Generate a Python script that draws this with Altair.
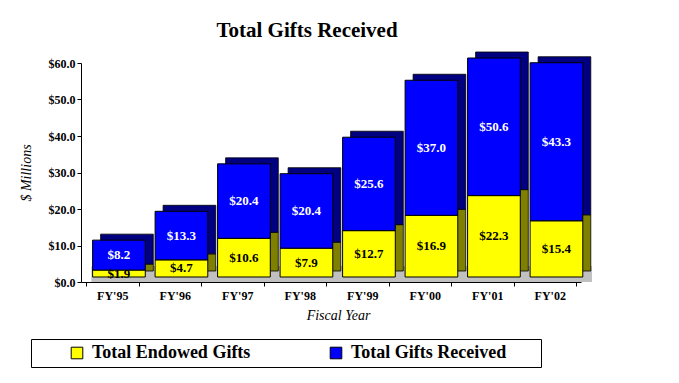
import altair as alt
import pandas as pd

years = ["FY'95", "FY'96", "FY'97", "FY'98", "FY'99", "FY'00", "FY'01", "FY'02"]
endowed = [1.9, 4.7, 10.6, 7.9, 12.7, 16.9, 22.3, 15.4]
gifts = [8.2, 13.3, 20.4, 20.4, 25.6, 37.0, 50.6, 43.3]
series_names = ["Total Endowed Gifts", "Total Gifts Received"]
front_colors = ["#FFFF00", "#0000FF"]
side_colors = ["#808000", "#000080"]
text_colors = ["#000000", "#FFFFFF"]
y_ticks = [0, 10, 20, 30, 40, 50, 60]
y_max = 60.0
floor_depth = 4.3

rows = []
for i, yr in enumerate(years):
    e = endowed[i]
    g = gifts[i]
    top = min(e + g, y_max)
    rows.append(dict(year=yr, series=series_names[0], y0=0.0, y1=e, mid=e / 2,
                     label=f"${e:.1f}", side=side_colors[0], tcol=text_colors[0], floor=floor_depth, zero=0.0))
    rows.append(dict(year=yr, series=series_names[1], y0=e, y1=top, mid=(e + top) / 2,
                     label=f"${g:.1f}", side=side_colors[1], tcol=text_colors[1], floor=floor_depth, zero=0.0))
df = pd.DataFrame(rows)

FONT = "Liberation Serif"
FX, FY = 6.7, -5
DX, DY = 8, -6

x_enc = alt.X("year:N", sort=years, title="Fiscal Year",
              scale=alt.Scale(paddingInner=0.157, paddingOuter=0.0785),
              axis=alt.Axis(labelAngle=0, tickBand="extent", tickSize=4, labelPadding=4,
                            labelFont=FONT, labelFontWeight="bold", labelFontSize=12, labelColor="black",
                            titleFont=FONT, titleFontStyle="italic", titleFontWeight="normal",
                            titleFontSize=14, titlePadding=7, titleColor="black", titleX=257,
                            domainColor="black", tickColor="black", zindex=1, grid=False))
y_scale = alt.Scale(domain=[0, y_max])
y_axis = alt.Axis(values=y_ticks, format="$.1f", grid=False, tickSize=4, labelOverlap=False,
                  labelPadding=2, labelFont=FONT, labelFontWeight="bold", labelFontSize=12,
                  labelColor="black", titleFont=FONT, titleFontStyle="italic",
                  titleFontWeight="normal", titleFontSize=14, titlePadding=15,
                  titleColor="black", domainColor="black", tickColor="black", zindex=1)


def yq(field):
    return alt.Y(field, scale=y_scale, axis=y_axis, title="$ Millions")


base = alt.Chart(df)

floor = base.mark_bar(color="#C0C0C0", width=alt.RelativeBandSize(1.19), xOffset=10.7).encode(
    x=x_enc,
    y=yq("floor:Q"),
    y2="zero:Q",
)

side = base.mark_bar(stroke="black", strokeWidth=0.8, xOffset=FX + DX,
                     yOffset=FY + DY, y2Offset=FY + DY).encode(
    x=x_enc,
    y=yq("y0:Q"),
    y2="y1:Q",
    color=alt.Color("side:N", scale=None),
)

front = base.mark_bar(stroke="black", strokeWidth=1, xOffset=FX, yOffset=FY, y2Offset=FY).encode(
    x=x_enc,
    y=yq("y0:Q"),
    y2="y1:Q",
    color=alt.Color("series:N", scale=alt.Scale(domain=series_names, range=front_colors),
                    legend=alt.Legend(title=".", titleOrient="right", titleColor="white",
                                      titleFontSize=4, titlePadding=28,
                                      orient="none", legendX=-50, legendY=276,
                                      direction="horizontal", columns=2, columnPadding=44,
                                      padding=5, strokeColor="black", symbolType="square",
                                      symbolSize=135, symbolStrokeColor="black", symbolStrokeWidth=1,
                                      symbolOffset=32, labelOffset=6, labelFont=FONT,
                                      labelFontWeight="bold", labelFontSize=18, labelColor="black",
                                      labelLimit=400)),
)

labels = base.mark_text(font=FONT, fontWeight="bold", fontSize=13, xOffset=FX, yOffset=FY).encode(
    x=x_enc,
    y=yq("mid:Q"),
    text="label:N",
    color=alt.Color("tcol:N", scale=None),
)

chart = alt.layer(floor, side, front, labels).properties(
    width=500, height=219,
    autosize=alt.AutoSizeParams(type="none"),
    padding={"left": 73, "top": 55, "right": 90, "bottom": 92},
    background="white",
    title=alt.Title("Total Gifts Received", font=FONT, fontWeight="bold", fontSize=21,
                    color="black", anchor="middle", dx=-24, offset=11),
).configure_view(stroke=None).configure_axis(grid=False)

chart.save("out.html", embed_options={"renderer": "svg", "actions": False})
